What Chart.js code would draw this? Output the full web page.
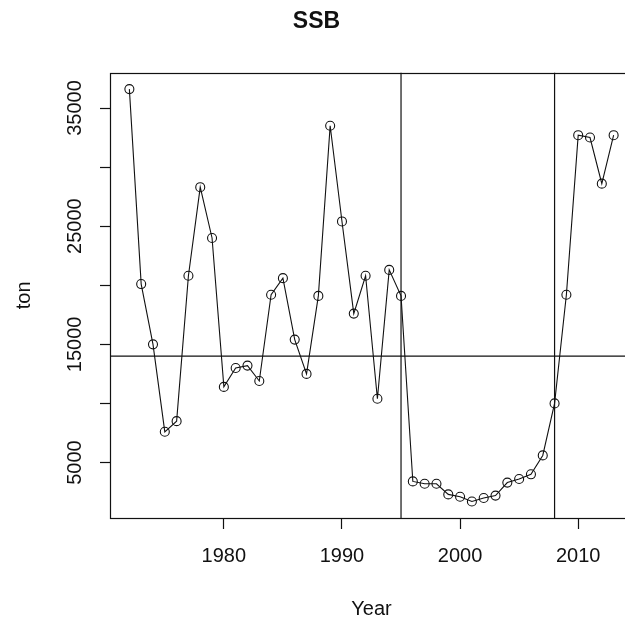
<!DOCTYPE html>
<html>
<head>
<meta charset="utf-8">
<script src="https://cdn.jsdelivr.net/npm/chart.js@4"></script>
<style>
  html, body { margin: 0; padding: 0; background: #fff; overflow: hidden; }
</style>
</head>
<body>
<canvas id="c" width="742" height="623"></canvas>
<script>
// SSB by year
const years = [1972, 1973, 1974, 1975, 1976, 1977, 1978, 1979, 1980, 1981,
               1982, 1983, 1984, 1985, 1986, 1987, 1988, 1989, 1990, 1991,
               1992, 1993, 1994, 1995, 1996, 1997, 1998, 1999, 2000, 2001,
               2002, 2003, 2004, 2005, 2006, 2007, 2008, 2009, 2010, 2011,
               2012, 2013];
const ssb = [36600, 20100, 15000, 7600, 8500, 20800, 28300, 24000, 11400, 13000,
             13200, 11900, 19200, 20600, 15400, 12500, 19100, 33500, 25400, 17600,
             20800, 10400, 21300, 19100, 3400, 3200, 3200, 2300, 2100, 1700,
             2000, 2200, 3300, 3600, 4000, 5600, 10000, 19200, 32700, 32500,
             28600, 32700];
const refLevel = 14000;
const refYears = [1995, 2008];
const xTicks = [1980, 1990, 2000, 2010];
const yTicks = [5000, 10000, 15000, 20000, 25000, 30000, 35000];
const yLabels = [5000, 15000, 25000, 35000];

// R style axis limits (4% extension)
const xr = years[years.length - 1] - years[0];
const xMin = years[0] - 0.04 * xr, xMax = years[years.length - 1] + 0.04 * xr;
const yr = Math.max(...ssb) - Math.min(...ssb);
const yMin = Math.min(...ssb) - 0.04 * yr, yMax = Math.max(...ssb) + 0.04 * yr;

const font = 'Liberation Sans, Arial, sans-serif';
const ink = '#111';

const boxPlugin = {
  id: 'box',
  afterDraw(chart) {
    const a = chart.chartArea, ctx = chart.ctx;
    ctx.save();
    ctx.strokeStyle = ink;
    ctx.lineWidth = 1.2;
    ctx.strokeRect(Math.round(a.left) + 0.5, Math.round(a.top) + 0.5,
                   Math.round(a.right - a.left), Math.round(a.bottom - a.top));
    ctx.restore();
  }
};

const refSets = [{
  data: [{x: xMin, y: refLevel}, {x: xMax, y: refLevel}],
  borderColor: ink, borderWidth: 1.2, pointRadius: 0
}].concat(refYears.map(function(yy) {
  return {data: [{x: yy, y: yMin}, {x: yy, y: yMax}],
          borderColor: ink, borderWidth: 1.2, pointRadius: 0};
}));

new Chart(document.getElementById('c').getContext('2d'), {
  type: 'line',
  data: {
    datasets: [{
      label: 'SSB',
      data: years.map(function(y, i) { return {x: y, y: ssb[i]}; }),
      borderColor: ink, borderWidth: 1.1,
      pointRadius: 4.5, pointBorderWidth: 1.1,
      pointBackgroundColor: 'rgba(0,0,0,0)', pointBorderColor: ink,
      tension: 0
    }].concat(refSets)
  },
  options: {
    responsive: false,
    animation: false,
    layout: {padding: {left: 0, right: 109, top: 0, bottom: 0}},
    plugins: {
      legend: {display: false},
      tooltip: {enabled: false},
      title: {
        display: true, text: 'SSB', color: ink,
        font: {family: font, size: 23, weight: 'bold'},
        padding: {top: 8, bottom: 37}
      }
    },
    scales: {
      x: {
        type: 'linear', min: xMin, max: xMax,
        afterBuildTicks: function(s) { s.ticks = xTicks.map(function(v) { return {value: v}; }); },
        afterFit: function(s) { s.height = 105; },
        grid: {drawOnChartArea: false, drawTicks: true, tickLength: 11, tickColor: ink, tickWidth: 1.2},
        border: {display: false},
        ticks: {color: ink, font: {family: font, size: 20}, padding: 15, maxRotation: 0,
                callback: function(v) { return String(v); }},
        title: {display: true, text: 'Year', color: ink, font: {family: font, size: 20},
                padding: {top: 0, bottom: 2}}
      },
      y: {
        type: 'linear', min: yMin, max: yMax,
        afterBuildTicks: function(s) { s.ticks = yTicks.map(function(v) { return {value: v}; }); },
        afterFit: function(s) { s.width = 110; },
        grid: {drawOnChartArea: false, drawTicks: true, tickLength: 10, tickColor: ink, tickWidth: 1.2},
        border: {display: false},
        ticks: {color: ink, font: {family: font, size: 20}, padding: -3,
                minRotation: 90, maxRotation: 90, crossAlign: 'center',
                callback: function(v) { return yLabels.indexOf(v) >= 0 ? String(v) : ''; }},
        title: {display: true, text: 'ton', color: ink, font: {family: font, size: 20},
                padding: {top: 12, bottom: 0}}
      }
    }
  },
  plugins: [boxPlugin]
});
</script>
</body>
</html>
